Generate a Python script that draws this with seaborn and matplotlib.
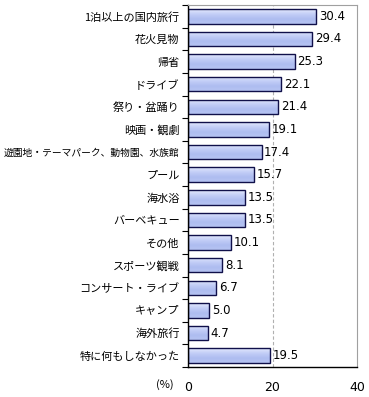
import matplotlib
matplotlib.use("Agg")
import matplotlib.pyplot as plt
import seaborn as sns
import pandas as pd
import numpy as np
from matplotlib.colors import LinearSegmentedColormap

categories = ["1泊以上の国内旅行", "花火見物", "帰省", "ドライブ", "祭り・盆踊り", "映画・観劇",
              "遊園地・テーマパーク、動物園、水族館", "プール", "海水浴", "バーベキュー", "その他",
              "スポーツ観戦", "コンサート・ライブ", "キャンプ", "海外旅行", "特に何もしなかった"]
values = [30.4, 29.4, 25.3, 22.1, 21.4, 19.1, 17.4, 15.7, 13.5, 13.5, 10.1, 8.1, 6.7, 5.0, 4.7, 19.5]
xticks = [0, 20, 40]

sns.set_theme(style="white")
plt.rcParams['font.family'] = ['Noto Sans CJK JP', 'DejaVu Sans']
plt.rcParams['text.color'] = 'black'
plt.rcParams['xtick.color'] = 'black'
plt.rcParams['ytick.color'] = 'black'

df = pd.DataFrame({"cat": categories, "val": values})

fig = plt.figure(figsize=(3.69, 3.97), dpi=100)
ax = fig.add_axes([188/369, 1-367/397, (357-188)/369, (367-5)/397])

sns.barplot(data=df, x="val", y="cat", orient="h", color="#c2caf2",
            edgecolor="#10104a", linewidth=1.0, width=0.64, saturation=1, ax=ax)

ax.set_xlim(0, 40)
ax.set_ylim(len(categories) - 0.5, -0.5)

# gradient fill inside bars
cmap = LinearSegmentedColormap.from_list("g", ["#e4eafd", "#c3cef7", "#aebdf0", "#b6c3f2"])
grad = np.linspace(0, 1, 64).reshape(-1, 1)
for p in ax.patches:
    x0, y0 = p.get_x(), p.get_y()
    w, h = p.get_width(), p.get_height()
    im = ax.imshow(grad, cmap=cmap, aspect='auto', extent=[x0, x0 + w, y0 + h, y0],
                   origin='upper', zorder=p.get_zorder() + 0.1, interpolation='bilinear')
    im.set_clip_path(p)
    p.set_facecolor('none')
    p.set_zorder(p.get_zorder() + 0.2)
ax.set_xlim(0, 40)
ax.set_ylim(len(categories) - 0.5, -0.5)
ax.set_aspect('auto')

ax.set_xticks(xticks)
ax.set_xticklabels([str(t) for t in xticks], fontsize=9, family='DejaVu Sans')
ax.tick_params(axis='x', length=0, pad=10, labelcolor='black')
ax.set_xlabel("")
ax.set_ylabel("")
ax.tick_params(axis='y', which='major', length=0, pad=6, labelsize=8, labelcolor='black')
for lbl in ax.get_yticklabels():
    if len(lbl.get_text()) > 12:
        lbl.set_fontsize(7)
ax.set_yticks(np.arange(-0.5, len(categories), 1), minor=True)
ax.tick_params(axis='y', which='minor', length=4, width=0.8, color='black', direction='out', left=True)

ax.axvline(20, color="#b0b0b0", linestyle=(0, (3, 2)), linewidth=0.8, zorder=0)

for sp in ['left', 'bottom']:
    ax.spines[sp].set_color('black')
    ax.spines[sp].set_linewidth(1.0)
for sp in ['top', 'right']:
    ax.spines[sp].set_color('#a0a0a0')
    ax.spines[sp].set_linewidth(0.8)

for i, v in enumerate(values):
    ax.text(v + 0.6, i, f"{v:.1f}", va='center', ha='left', fontsize=8.5, family='DejaVu Sans', color='black')

fig.text(156/369, 1-385/397, "(%)", fontsize=8, va='center', ha='left', color='black')

fig.savefig("out.png", dpi=100)
